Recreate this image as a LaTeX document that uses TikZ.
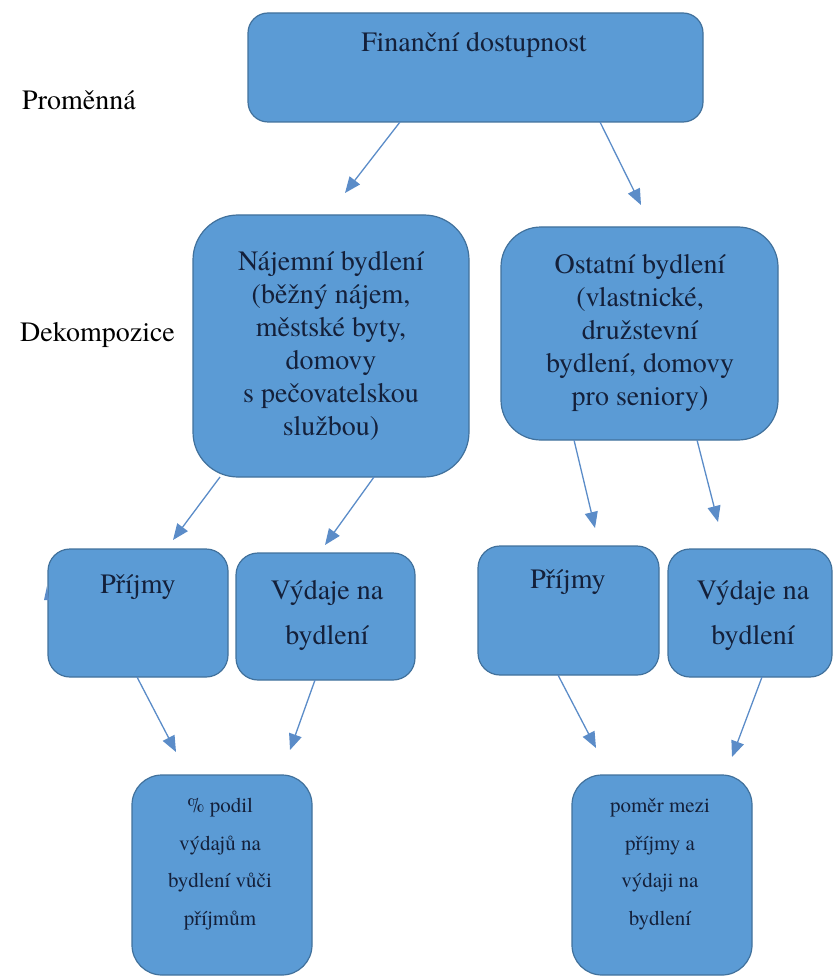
\documentclass[tikz,border=0pt]{standalone}
\usepackage{fontspec}
\setmainfont{texgyretermes}[Extension=.otf, UprightFont=*-regular, BoldFont=*-bold, ItalicFont=*-italic, BoldItalicFont=*-bolditalic]
\newfontfamily\timesf{texgyretermes}[Extension=.otf, UprightFont=*-regular]
\usetikzlibrary{arrows.meta}
\definecolor{boxfill}{HTML}{5B9BD5}
\definecolor{boxline}{HTML}{41719C}
\definecolor{arrcol}{HTML}{5B8CC8}
\definecolor{txtcol}{HTML}{14203A}
\begin{document}
\begin{tikzpicture}[x=1pt,y=-1pt,
  blk/.style={draw=boxline, line width=1.2pt, fill=boxfill, inner sep=0pt},
  lbl/.style={text=txtcol, align=center, inner sep=0pt, font=\timesf\fontsize{28}{33}\selectfont},
  lblwide/.style={text=txtcol, align=center, inner sep=0pt, font=\timesf\fontsize{28}{45}\selectfont},
  lblsmall/.style={text=txtcol, align=center, inner sep=0pt, font=\timesf\fontsize{21}{37.5}\selectfont},
  side/.style={text=black, anchor=west, inner sep=0pt, font=\timesf\fontsize{28}{33}\selectfont},
  arr/.style={draw=arrcol, line width=1.3pt, -{Triangle[length=16pt,width=13pt]}},
]
\useasboundingbox (0,0) rectangle (836,976);

% side labels
\node[side] (promenna) at (22,100) {Proměnná};
\node[side] (dekomp) at (20,335) {Dekompozice};

% boxes
\node[blk, rounded corners=20pt, minimum width=455pt, minimum height=109pt] (top) at (475.5,67.5) {};
\node[blk, rounded corners=45pt, minimum width=276pt, minimum height=262pt] (najem) at (331,346) {};
\node[blk, rounded corners=40pt, minimum width=277pt, minimum height=213pt] (ostatni) at (639.5,333.5) {};
\node[blk, rounded corners=22pt, minimum width=180pt, minimum height=128pt] (prL) at (138,613) {};
\node[blk, rounded corners=22pt, minimum width=179pt, minimum height=127pt] (vyL) at (325.5,616.5) {};
\node[blk, rounded corners=22pt, minimum width=181pt, minimum height=129pt] (prR) at (568.5,610.5) {};
\node[blk, rounded corners=22pt, minimum width=164pt, minimum height=128pt] (vyR) at (750,613) {};
\node[blk, rounded corners=30pt, minimum width=180pt, minimum height=200pt] (podil) at (222,875) {};
\node[blk, rounded corners=30pt, minimum width=180pt, minimum height=200pt] (pomer) at (662,875) {};

% texts
\node[lbl] (topT) at (474,45) {Finanční dostupnost};
\node[lbl] (najemT) at (331,346) {Nájemní bydlení\\(běžný nájem,\\městské byty,\\domovy\\s pečovatelskou\\službou)};
\node[lbl] (ostatniT) at (640,333) {Ostatní bydlení\\(vlastnické,\\družstevní\\bydlení, domovy\\pro seniory)};
\node[lbl] (prLT) at (138,587) {Příjmy};
\node[lblwide] (vyLT) at (327,615) {Výdaje na\\bydlení};
\node[lbl] (prRT) at (568,582) {Příjmy};
\node[lblwide] (vyRT) at (753,615) {Výdaje na\\bydlení};
\node[lblsmall] (podilT) at (220,864) {\% podil\\výdajů na\\bydlení vůči\\příjmům};
\node[lblsmall] (pomerT) at (660,864) {poměr mezi\\příjmy a\\výdaji na\\bydlení};

% arrow end points
\coordinate (a1s) at (400,122); \coordinate (a1e) at (345,193);
\coordinate (a2s) at (600,122); \coordinate (a2e) at (641,205);
\coordinate (a3s) at (220,477); \coordinate (a3e) at (173,540);
\coordinate (a4s) at (374,477); \coordinate (a4e) at (325,545);
\coordinate (a5s) at (574,440); \coordinate (a5e) at (595,528);
\coordinate (a6s) at (697,440); \coordinate (a6e) at (718,522);
\coordinate (a7s) at (137,677); \coordinate (a7e) at (176,752);
\coordinate (a8s) at (315,680); \coordinate (a8e) at (290,750);
\coordinate (a9s) at (558,675); \coordinate (a9e) at (596,748);
\coordinate (a10s) at (762,677); \coordinate (a10e) at (732,757);

\draw[arr] (a1s) -- (a1e);
\draw[arr] (a2s) -- (a2e);
\draw[arr] (a3s) -- (a3e);
\draw[arr] (a4s) -- (a4e);
\draw[arr] (a5s) -- (a5e);
\draw[arr] (a6s) -- (a6e);
\draw[arr] (a7s) -- (a7e);
\draw[arr] (a8s) -- (a8e);
\draw[arr] (a9s) -- (a9e);
\draw[arr] (a10s) -- (a10e);

% small stray mark at left of the first Prijmy box
\coordinate (m1) at (44,600); \coordinate (m2) at (47,586); \coordinate (m3) at (49,600);
\fill[arrcol] (m1) -- (m2) -- (m3) -- cycle;
\end{tikzpicture}
\end{document}
